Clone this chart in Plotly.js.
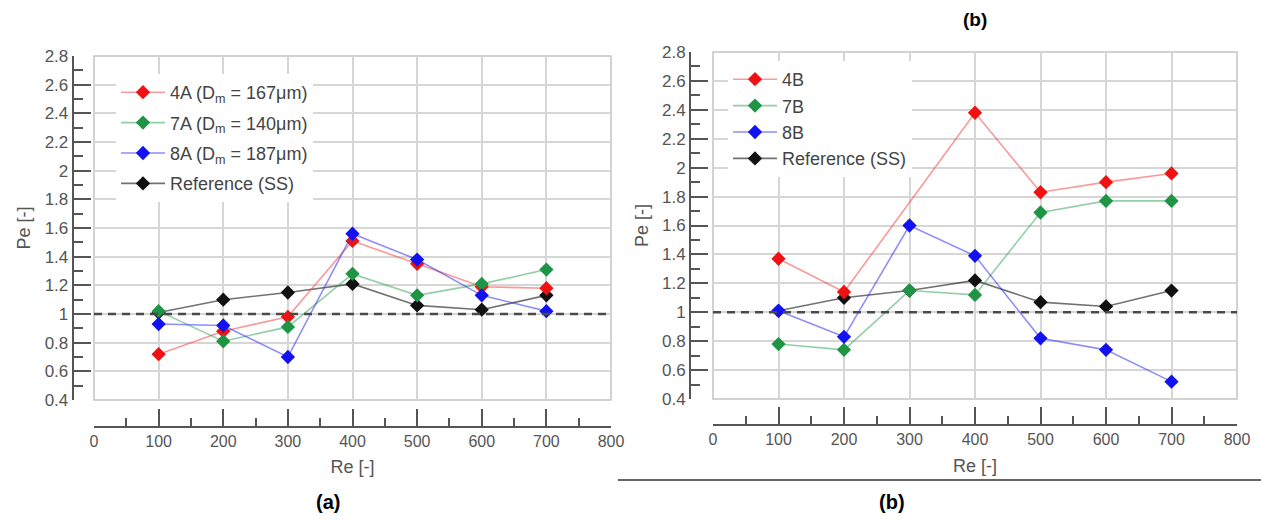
<!DOCTYPE html>
<html>
<head>
<meta charset="utf-8">
<script src="https://cdn.plot.ly/plotly-3.0.1.min.js"></script>
<style>html,body{margin:0;padding:0;background:#fff;}#chart{width:1261px;height:522px;}</style>
</head>
<body>
<div id="chart"></div>
<script>
// ---- data ----
const re = [100, 200, 300, 400, 500, 600, 700];
const xTicks = [0, 100, 200, 300, 400, 500, 600, 700, 800];
const pe4A = [0.72, 0.88, 0.98, 1.51, 1.35, 1.19, 1.18];
const pe7A = [1.02, 0.81, 0.91, 1.28, 1.13, 1.21, 1.31];
const pe8A = [0.93, 0.92, 0.70, 1.56, 1.38, 1.13, 1.02];
const peRefA = [1.01, 1.10, 1.15, 1.21, 1.06, 1.03, 1.13];
const pe4B = [1.37, 1.14, null, 2.38, 1.83, 1.90, 1.96];
const pe7B = [0.78, 0.74, 1.15, 1.12, 1.69, 1.77, 1.77];
const pe8B = [1.01, 0.83, 1.60, 1.39, 0.82, 0.74, 0.52];
const peRefB = [1.01, 1.10, 1.15, 1.22, 1.07, 1.04, 1.15];
const namesA = ['4A (D<sub>m</sub> = 167\u03bcm)', '7A (D<sub>m</sub> = 140\u03bcm)', '8A (D<sub>m</sub> = 187\u03bcm)', 'Reference (SS)'];
const namesB = ['4B', '7B', '8B', 'Reference (SS)'];
const refLevel = 1;
const xTitle = 'Re [-]';
const yTitle = 'Pe [-]';

// ---- styles ----
const W = 1261, H = 522;
const fx = p => p / W;
const fy = p => 1 - p / H;
const markerCols = ['#f01212', '#1f9444', '#1212f0', '#111111'];
const lineCols = ['rgba(245,70,70,0.55)', 'rgba(40,160,80,0.5)', 'rgba(50,50,240,0.55)', 'rgba(20,20,20,0.6)'];
const font = 'Liberation Sans, Arial, sans-serif';
const grey = '#555555';

function mk(x, y, name, i, xa, ya, leg) {
  return {
    type: 'scatter', mode: 'lines+markers', x: x, y: y, name: name,
    xaxis: xa, yaxis: ya, legend: leg, legendgroup: leg + i, legendrank: i + 1,
    connectgaps: true,
    line: {color: lineCols[i], width: 1.6},
    marker: {symbol: 'diamond', size: 11, color: markerCols[i]},
    hoverinfo: 'x+y+name'
  };
}
const seriesA = [pe4A, pe7A, pe8A, peRefA];
const seriesB = [pe4B, pe7B, pe8B, peRefB];
const order = [3, 0, 1, 2];
const traces = [];
order.forEach(i => traces.push(mk(re, seriesA[i], namesA[i], i, 'x', 'y', 'legend')));
order.forEach(i => traces.push(mk(re, seriesB[i], namesB[i], i, 'x2', 'y2', 'legend2')));

function xax(domain, pos) {
  return {
    domain: domain, range: [0, 800], anchor: 'free', position: pos,
    tickmode: 'array', tickvals: xTicks, ticktext: xTicks.map(String),
    ticks: 'inside', ticklen: 17, tickwidth: 2, tickcolor: grey,
    minor: {dtick: 50, tick0: 0, ticks: 'inside', ticklen: 8, tickwidth: 2, tickcolor: grey, showgrid: false},
    showline: true, linecolor: grey, linewidth: 2,
    showgrid: true, gridcolor: '#d6d6d6', gridwidth: 1.5, zeroline: false,
    tickfont: {family: font, size: 16, color: grey},
    title: {text: xTitle, font: {family: font, size: 18, color: grey}, standoff: 11}
  };
}
function yax(domain, pos) {
  return {
    domain: domain, range: [0.4, 2.8], anchor: 'free', position: pos,
    tick0: 0.4, dtick: 0.2,
    ticks: 'inside', ticklen: 17, tickwidth: 2, tickcolor: grey,
    minor: {dtick: 0.1, tick0: 0.4, ticks: 'inside', ticklen: 9, tickwidth: 2, tickcolor: grey, showgrid: false},
    showline: true, linecolor: grey, linewidth: 2,
    showgrid: true, gridcolor: '#d6d6d6', gridwidth: 1.5, zeroline: false,
    tickfont: {family: font, size: 17, color: grey},
    title: {text: yTitle, font: {family: font, size: 18, color: grey}, standoff: 8}
  };
}
function frame(xr, yr) {
  return {type: 'rect', xref: xr + ' domain', yref: yr + ' domain', x0: 0, x1: 1, y0: 0, y1: 1,
    line: {color: '#c4c4c4', width: 1.5}, fillcolor: 'rgba(0,0,0,0)', layer: 'below'};
}
function dashed(xr, yr) {
  return {type: 'line', xref: xr + ' domain', yref: yr, x0: 0, x1: 1, y0: refLevel, y1: refLevel,
    line: {color: '#4a4a4a', width: 2.5, dash: '8px,6px'}, layer: 'above'};
}
function leg(x, y, gap) {
  return {x: x, y: y, xanchor: 'left', yanchor: 'top', bgcolor: '#ffffff', borderwidth: 0,
    font: {family: font, size: 18, color: '#444'}, tracegroupgap: gap, traceorder: 'grouped',
    itemwidth: 44};
}

const layout = {
  width: W, height: H, margin: {l: 0, r: 0, t: 0, b: 0},
  paper_bgcolor: '#ffffff', plot_bgcolor: '#ffffff',
  showlegend: true,
  xaxis: xax([fx(94), fx(611)], fy(426.5)),
  yaxis: yax([fy(400), fy(56)], fx(72.7)),
  xaxis2: xax([fx(713), fx(1237)], fy(425)),
  yaxis2: yax([fy(399), fy(52)], fx(690)),
  legend: leg(fx(116), fy(74), 4),
  legend2: leg(fx(728), fy(61), 0),
  shapes: [
    frame('x', 'y'), frame('x2', 'y2'),
    dashed('x', 'y'), dashed('x2', 'y2'),
    {type: 'line', xref: 'paper', yref: 'paper', x0: fx(618), x1: 1, y0: fy(480), y1: fy(480),
     line: {color: '#333', width: 1.5}}
  ],
  annotations: [
    {text: '<b>(a)</b>', xref: 'paper', yref: 'paper', x: fx(328), y: fy(502), xanchor: 'center', yanchor: 'middle',
     showarrow: false, font: {family: font, size: 20, color: '#000'}},
    {text: '<b>(b)</b>', xref: 'paper', yref: 'paper', x: fx(892), y: fy(502), xanchor: 'center', yanchor: 'middle',
     showarrow: false, font: {family: font, size: 20, color: '#000'}},
    {text: '<b>(b)</b>', xref: 'paper', yref: 'paper', x: fx(975), y: fy(20), xanchor: 'center', yanchor: 'middle',
     showarrow: false, font: {family: font, size: 19, color: '#000'}}
  ]
};

Plotly.newPlot('chart', traces, layout, {displayModeBar: false, responsive: false});
</script>
</body>
</html>
